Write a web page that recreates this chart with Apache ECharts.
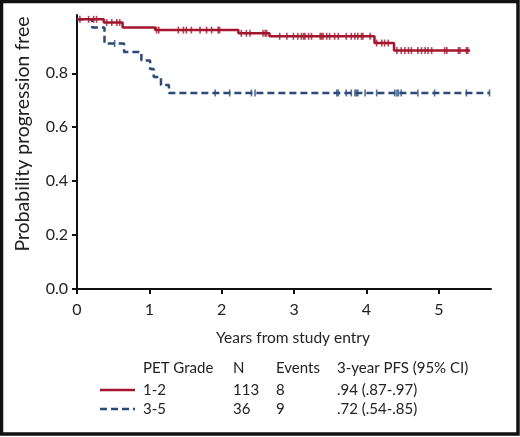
<!DOCTYPE html>
<html>
<head>
<meta charset="utf-8">
<script src="https://cdn.jsdelivr.net/npm/echarts@6/dist/echarts.min.js"></script>
<style>
    body { margin: 0; background: #fff; }
    #main { width: 520px; height: 437px; }
</style>
</head>
<body>
<div id="main"></div>
<script>
// PET grade 1-2 (red, solid)
var redTimes = [0, 0.37, 0.63, 1.08, 2.23, 2.66, 4.11, 4.38, 5.43];
var redSurv = [1.0, 0.988, 0.970, 0.960, 0.948, 0.937, 0.912, 0.884, 0.884];
var redCensor = [0.04, 0.16, 0.23, 0.27, 0.41, 0.48, 0.55, 0.59, 1.10, 1.13,
    1.40, 1.47, 1.51, 1.58, 1.70, 1.79, 1.86, 1.95, 1.97, 2.27, 2.34, 2.39,
    2.57, 2.60, 2.62, 2.80, 2.90, 2.99, 3.05, 3.10, 3.13, 3.15, 3.20, 3.24,
    3.36, 3.38, 3.40, 3.45, 3.49, 3.56, 3.61, 3.72, 3.79, 3.84, 3.88, 3.93,
    3.95, 4.05, 4.14, 4.21, 4.25, 4.30, 4.42, 4.48, 4.53, 4.58, 4.62, 4.71,
    4.76, 4.81, 4.85, 4.90, 5.08, 5.11, 5.27, 5.29, 5.38, 5.40];

// PET grade 3-5 (blue, dashed)
var blueTimes = [0, 0.21, 0.38, 0.65, 0.89, 1.01, 1.06, 1.16, 1.27, 5.70];
var blueSurv = [1.0, 0.970, 0.910, 0.879, 0.847, 0.816, 0.786, 0.756, 0.727, 0.727];
var blueCensor = [0.52, 1.91, 2.11, 2.41, 2.46, 3.59, 3.61, 3.72, 3.79, 3.84,
    3.86, 3.88, 3.98, 4.14, 4.39, 4.42, 4.44, 4.48, 4.71, 4.94, 5.38, 5.70];

var xTicks = [0, 1, 2, 3, 4, 5];
var yTicks = [0, 0.2, 0.4, 0.6, 0.8];

// legend table
var tableHeader = ['PET Grade', 'N', 'Events', '3-year PFS (95% CI)'];
var tableRows = [
    ['1-2', '113', '8', '.94 (.87-.97)'],
    ['3-5', '36', '9', '.72 (.54-.85)']
];

var RED = '#a3162e';
var BLUE = '#2b4a78';
var FONT = 'Lato';

function survAt(times, surv, t) {
    var v = surv[0];
    for (var i = 0; i < times.length; i++) {
        if (times[i] <= t) v = surv[i];
    }
    return v;
}

function zipCurve(times, surv) {
    return times.map(function (t, i) { return [t, surv[i]]; });
}

function censorPts(censor, times, surv) {
    return censor.map(function (t) { return [t, survAt(times, surv, t)]; });
}

var colX = [143, 233, 276, 337];
var rowY = [368, 390, 409];
var graphics = [
    {
        type: 'rect',
        shape: { x: 1.5, y: 1.5, width: 516.5, height: 432.5 },
        style: { fill: 'none', stroke: '#111', lineWidth: 3.5 },
        silent: true
    },
    {
        type: 'line',
        shape: { x1: 100, y1: rowY[1], x2: 135, y2: rowY[1] },
        style: { stroke: RED, lineWidth: 2.5 }
    },
    {
        type: 'line',
        shape: { x1: 100, y1: rowY[2], x2: 135, y2: rowY[2] },
        style: { stroke: BLUE, lineWidth: 2.5, lineDash: [7, 4] }
    }
];
tableHeader.forEach(function (txt, j) {
    graphics.push({
        type: 'text', x: colX[j], y: rowY[0],
        style: { text: txt, font: '15px ' + FONT, fill: '#222', textVerticalAlign: 'middle' }
    });
});
tableRows.forEach(function (row, i) {
    row.forEach(function (txt, j) {
        graphics.push({
            type: 'text', x: colX[j], y: rowY[i + 1],
            style: { text: txt, font: '15px ' + FONT, fill: '#222', textVerticalAlign: 'middle' }
        });
    });
});

var chart = echarts.init(document.getElementById('main'));
var option = {
    animation: false,
    textStyle: { fontFamily: FONT },
    grid: { left: 77, right: 29, top: 15, bottom: 148 },
    xAxis: {
        type: 'value',
        min: 0,
        max: 5.72,
        interval: 1,
        name: 'Years from study entry',
        nameLocation: 'middle',
        nameGap: 41,
        nameTextStyle: { fontSize: 15.5, color: '#222', fontFamily: FONT, padding: [0, 0, 0, 18] },
        axisLine: { lineStyle: { color: '#111', width: 2 } },
        axisTick: { show: true, length: 5, lineStyle: { color: '#111', width: 2 }, customValues: xTicks },
        axisLabel: { color: '#222', fontSize: 16, margin: 13, customValues: xTicks },
        splitLine: { show: false }
    },
    yAxis: {
        type: 'value',
        min: 0,
        max: 1.016,
        interval: 0.2,
        name: 'Probability progression free',
        nameLocation: 'middle',
        nameGap: 44,
        nameTextStyle: { fontSize: 19.5, color: '#222', fontFamily: FONT, padding: [0, 0, 0, 36] },
        axisLine: { show: true, lineStyle: { color: '#111', width: 2 } },
        axisTick: { show: true, length: 5, lineStyle: { color: '#111', width: 2 }, customValues: yTicks },
        axisLabel: {
            color: '#222', fontSize: 16, margin: 9, customValues: yTicks,
            formatter: function (v) { return v.toFixed(1); }
        },
        splitLine: { show: false }
    },
    series: [
        {
            type: 'line', step: 'end', showSymbol: false, z: 3,
            data: zipCurve(redTimes, redSurv),
            lineStyle: { color: RED, width: 2.5 }
        },
        {
            type: 'line', step: 'end', showSymbol: false, z: 2,
            data: zipCurve(blueTimes, blueSurv),
            lineStyle: { color: BLUE, width: 2.5, type: [7, 4] }
        },
        {
            type: 'scatter', symbol: 'rect', symbolSize: [1.6, 7], z: 4,
            data: censorPts(redCensor, redTimes, redSurv),
            itemStyle: { color: RED }
        },
        {
            type: 'scatter', symbol: 'rect', symbolSize: [1.6, 7], z: 4,
            data: censorPts(blueCensor, blueTimes, blueSurv),
            itemStyle: { color: BLUE }
        }
    ],
    graphic: graphics
};
chart.setOption(option);
window.addEventListener('resize', function () {
    chart.resize();
});
</script>
</body>
</html>
